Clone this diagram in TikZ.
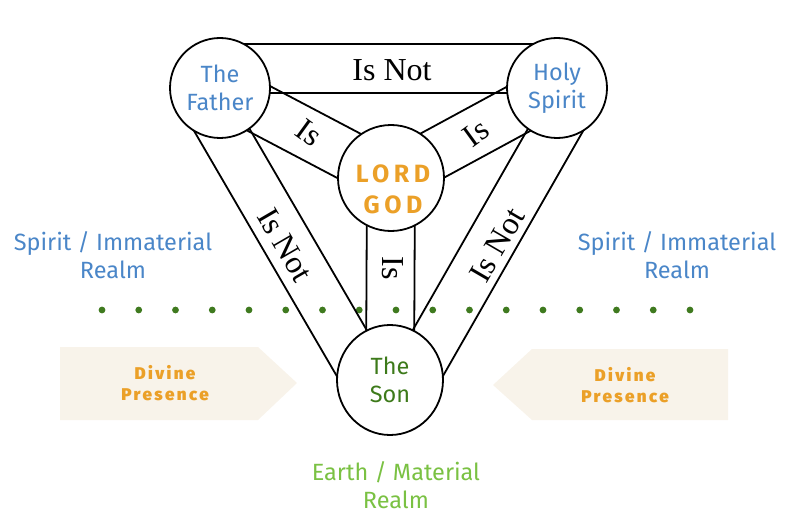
\documentclass[tikz,border=0pt]{standalone}
\usepackage{fontspec}
\setmainfont{Fira Sans}
\newfontfamily\serifF{Liberation Serif}
\newfontfamily\spacedF[LetterSpace=18]{Fira Sans Bold}
\newfontfamily\dpF[LetterSpace=14]{Fira Sans Black}
\usetikzlibrary{calc,shapes.geometric}
\definecolor{blueT}{HTML}{4A86C8}
\definecolor{orangeT}{HTML}{EBA028}
\definecolor{greenL}{HTML}{7AC143}
\definecolor{greenD}{HTML}{3D7A1A}
\definecolor{dotG}{HTML}{3F7A1F}
\definecolor{boxC}{HTML}{F8F3EA}
\begin{document}
\begin{tikzpicture}[x=1pt,y=-1pt,
  circ/.style={circle,draw=black,line width=1.8pt,fill=white,inner sep=0pt},
  band/.style={line width=1.8pt},
  lab/.style={font=\serifF\fontsize{32}{32}\selectfont,inner sep=1pt},
  side/.style={font=\fontsize{23.5}{28}\selectfont,align=center},
  dp/.style={font=\dpF\fontsize{17}{21}\selectfont,text=orangeT,align=center}]
\useasboundingbox (0,0) rectangle (800,524);
% positions
\coordinate (F) at (220,88);
\coordinate (H) at (557,88);
\coordinate (G) at (391,178);
\coordinate (S) at (390,380);
% divine presence arrows
\fill[boxC] (60,347) -- (258,347) -- (297,383) -- (258,420) -- (60,420) -- cycle;
\fill[boxC] (728,349) -- (532,349) -- (493,385) -- (532,420) -- (728,420) -- cycle;
\node[dp] (dpl) at (165,383) {Divine\\Presence};
\node[dp] (dpr) at (625,385) {Divine\\Presence};
% dots
\foreach \i in {0,...,16} \fill[dotG] (102+36.75*\i,310) circle (3.4);
% bands
\newcommand{\bandAB}[4]{%
  \draw[band] ($(#1)!#3!90:(#2)$) -- ($(#2)!#3!-90:(#1)$);
  \draw[band] ($(#1)!#4!90:(#2)$) -- ($(#2)!#4!-90:(#1)$);}
\bandAB{F}{H}{44pt}{-5pt}
\bandAB{H}{S}{44pt}{-5pt}
\bandAB{S}{F}{44pt}{-5pt}
\bandAB{F}{G}{25pt}{-25pt}
\bandAB{H}{G}{25pt}{-25pt}
\bandAB{G}{S}{24pt}{-24pt}
% circles
\node[circ,minimum size=100] (f) at (F) {};
\node[circ,minimum size=100] (h) at (H) {};
\node[circ,minimum size=106] (g) at (G) {};
\node[circ,ellipse,minimum width=106,minimum height=110] (s) at (S) {};
\node[side,text=blueT] (tf) at (F) {The\\Father};
\node[side,text=blueT] (th) at (H) {Holy\\Spirit};
\node[font=\spacedF\fontsize{25}{31}\selectfont,text=orangeT,align=center] (tg) at (393,189) {LORD\\GOD};
\node[side,text=greenD] (ts) at (S) {The\\Son};
% labels
\node[lab] (l1) at (392,70) {Is Not};
\node[lab,rotate=-36] (l2) at (309,133) {Is};
\node[lab,rotate=36] (l3) at (476,133) {Is};
\node[lab,rotate=-59.8] (l4) at (285,245) {Is Not};
\node[lab,rotate=59.8] (l5) at (497,245) {Is Not};
\node[lab,rotate=-90] (l6) at (393,268) {Is};
% side texts
\node[side,text=blueT] (sl) at (113,255) {Spirit / Immaterial\\Realm};
\node[side,text=blueT] (sr) at (677,255) {Spirit / Immaterial\\Realm};
\node[side,text=greenL] (el) at (396,485) {Earth / Material\\Realm};
\end{tikzpicture}
\end{document}
